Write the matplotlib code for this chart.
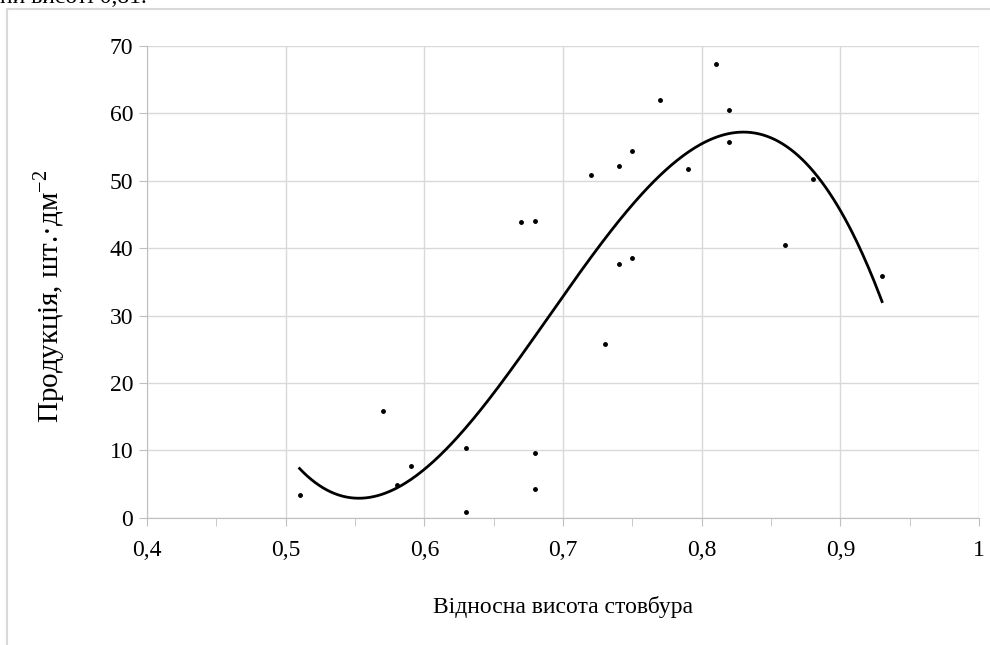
import matplotlib.pyplot as plt
import numpy as np
from matplotlib.patches import Rectangle

plt.rcParams['font.family'] = ['Liberation Serif', 'DejaVu Serif']
plt.rcParams['mathtext.fontset'] = 'custom'
plt.rcParams['mathtext.rm'] = 'Liberation Serif'

# relative stem height vs. production
height = [0.51, 0.57, 0.58, 0.59, 0.63, 0.63, 0.67, 0.68, 0.68, 0.68, 0.72, 0.73,
          0.74, 0.74, 0.75, 0.75, 0.77, 0.79, 0.81, 0.82, 0.82, 0.86, 0.88, 0.93]
production = [3.3, 15.8, 4.9, 7.6, 10.4, 0.8, 43.9, 44.0, 9.6, 4.2, 50.9, 25.8,
              52.2, 37.6, 54.4, 38.5, 62.0, 51.7, 67.3, 60.5, 55.8, 40.5, 50.3, 35.8]

x_ticks = [0.4, 0.5, 0.6, 0.7, 0.8, 0.9, 1.0]
x_labels = ['0,4', '0,5', '0,6', '0,7', '0,8', '0,9', '1']
y_ticks = [0, 10, 20, 30, 40, 50, 60, 70]

# polynomial trendline (4th order, like Excel's)
coef = np.polyfit(height, production, 4)
xs = np.linspace(min(height), max(height), 300)
ys = np.polyval(coef, xs)

fig = plt.figure(figsize=(9.9, 6.45), dpi=100)
ax = fig.add_axes([0.1485, 0.1974, 0.8405, 0.7313])

# frame of the chart object, partly cut off
fig.patches.append(Rectangle((7 / 990, -0.2), 1.2, 1.2 - 9 / 645,
                             transform=fig.transFigure, fill=False,
                             edgecolor='#d9d9d9', lw=1.5))
fig.text(0.0, 1 - 3 / 645, 'ни висоті 0,81.', fontsize=17, va='baseline', ha='left')

ax.plot(height, production, 'o', color='black', markersize=2.5)
ax.plot(xs, ys, color='black', lw=2)

ax.set_xlim(0.4, 1.0)
ax.set_ylim(0, 70)
ax.set_xticks(x_ticks)
ax.set_xticklabels(x_labels)
ax.set_xticks(np.arange(0.45, 1.0, 0.1), minor=True)
ax.set_yticks(y_ticks)
ax.grid(True, color='#d9d9d9', lw=1)
ax.set_axisbelow(True)
for s in ['top', 'right']:
    ax.spines[s].set_visible(False)
for s in ['left', 'bottom']:
    ax.spines[s].set_color('#bfbfbf')
ax.tick_params(axis='both', which='both', color='#bfbfbf', length=6, labelsize=17)
ax.tick_params(axis='x', pad=10)
ax.tick_params(axis='y', pad=4)

ax.set_xlabel('Відносна висота стовбура', fontsize=17)
ax.xaxis.set_label_coords(0.5, -0.165)
ax.set_ylabel(r'Продукція, шт.·дм$^{\mathregular{-2}}$', fontsize=21)
ax.yaxis.set_label_coords(-0.096, 0.47)

fig.savefig('out.png', dpi=100)
